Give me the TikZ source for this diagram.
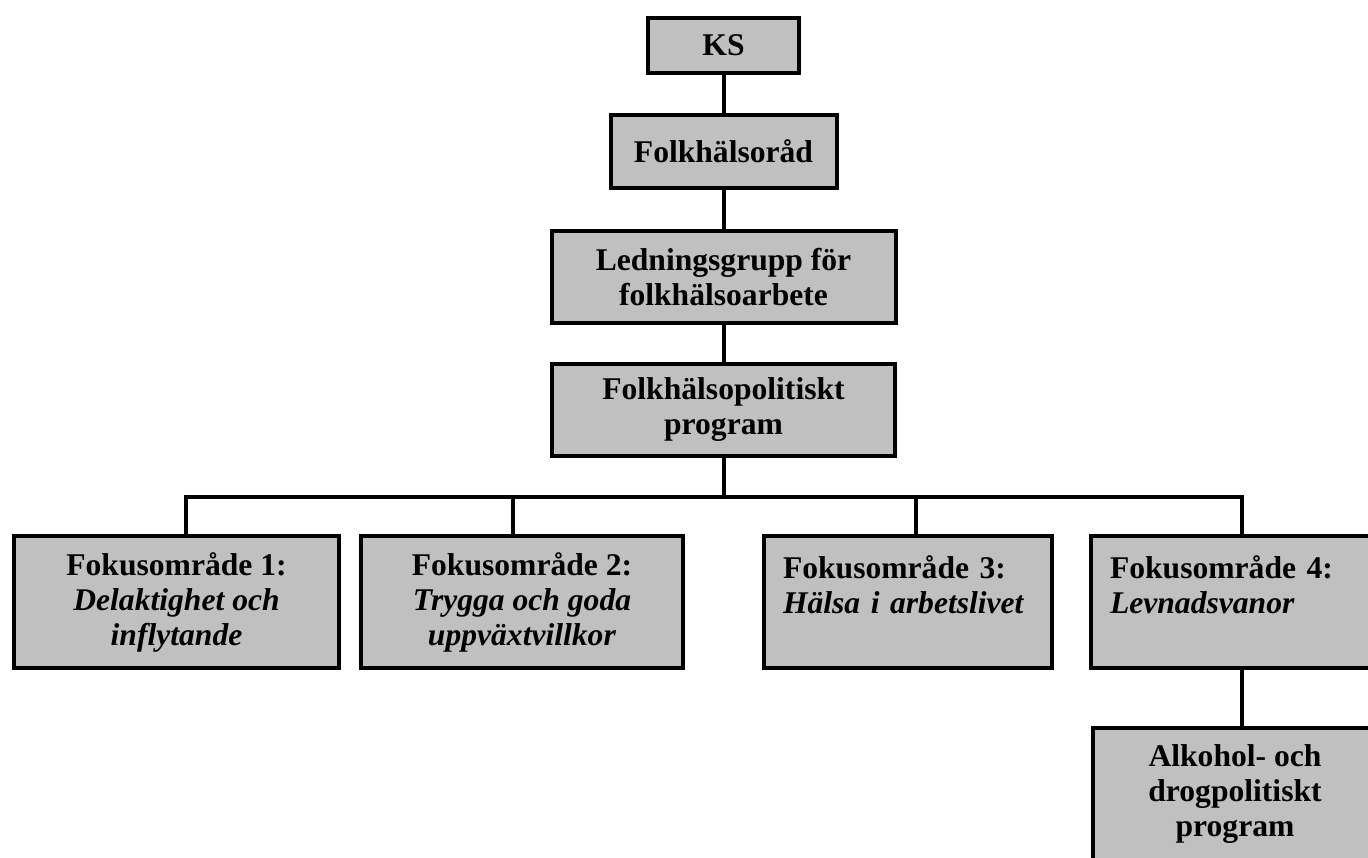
\documentclass[tikz,border=0pt]{standalone}
\usepackage{fontspec}
\setmainfont{Liberation Serif}
\usetikzlibrary{positioning}
\definecolor{boxgray}{RGB}{192,192,192}
\tikzset{
    orgbox/.style = {draw = black, line width = 2pt, fill = boxgray, rectangle, align = center, inner sep = 0pt, font = \fontsize{15.8}{17.5}\selectfont\bfseries},
    focusbox/.style = {orgbox, minimum width = 144pt, minimum height = 66pt},
    trunk/.style = {draw = black, line width = 2pt},
    branch/.style = {draw = black, line width = 1.8pt}
}

\begin{document}
\begin{tikzpicture}[x = 1pt, y = 1pt]
        \useasboundingbox (0,0) rectangle (684,-428.5) ;
        \clip (0,0) rectangle (684,-428.5) ;

        \node [orgbox, minimum width = 75.5pt, minimum height = 27.5pt] (ks) at (361.75,-22.75) {KS} ;
        \node [orgbox, minimum width = 113pt, minimum height = 36.5pt, below = 19pt of ks] (fhr) {Folkhälsoråd} ;
        \node [orgbox, minimum width = 172pt, minimum height = 46pt, below = 19.5pt of fhr] (lg) {Ledningsgrupp för\\folkhälsoarbete} ;
        \node [orgbox, minimum width = 171.5pt, minimum height = 46pt, below = 18.5pt of lg] (fpp) {Folkhälsopolitiskt\\program} ;

        \node [focusbox, minimum width = 162.5pt] (f1) at (88.25,-301) {Fokusområde 1:\\\textit{Delaktighet och}\\\textit{inflytande}} ;
        \node [focusbox, minimum width = 161pt, right = 9pt of f1] (f2) {Fokusområde 2:\\\textit{Trygga och goda}\\\textit{uppväxtvillkor}} ;
        \node [focusbox, text width = 125pt, align = left, right = 38.5pt of f2] (f3) {Fokusområde 3:\\\textit{Hälsa i arbetslivet}\\\mbox{}} ;
        \node [focusbox, text width = 125pt, align = left, right = 17.5pt of f3] (f4) {Fokusområde 4:\\\textit{Levnadsvanor}\\\mbox{}} ;
        \node [orgbox, minimum width = 142pt, minimum height = 66pt, below = 28pt of f4] (adp) {Alkohol- och\\drogpolitiskt\\program} ;

        \coordinate (d1) at (93,-248.5) ;
        \coordinate (d2) at (256.5,-248.5) ;
        \coordinate (d3) at (458,-248.5) ;
        \coordinate (d4) at (621,-248.5) ;

        \draw [trunk] (ks) -- (fhr) ;
        \draw [trunk] (fhr) -- (lg) ;
        \draw [trunk] (lg) -- (fpp) ;
        \draw [trunk] (fpp.south) -- (fpp.south |- d1) ;
        \draw [branch] (d1 |- f1.north) -- (d1) -- (d4) -- (d4 |- f4.north) ;
        \draw [branch] (d2) -- (d2 |- f2.north) ;
        \draw [branch] (d3) -- (d3 |- f3.north) ;
        \draw [branch] (d4 |- f4.south) -- (d4 |- adp.north) ;
    \end{tikzpicture}
\end{document}
